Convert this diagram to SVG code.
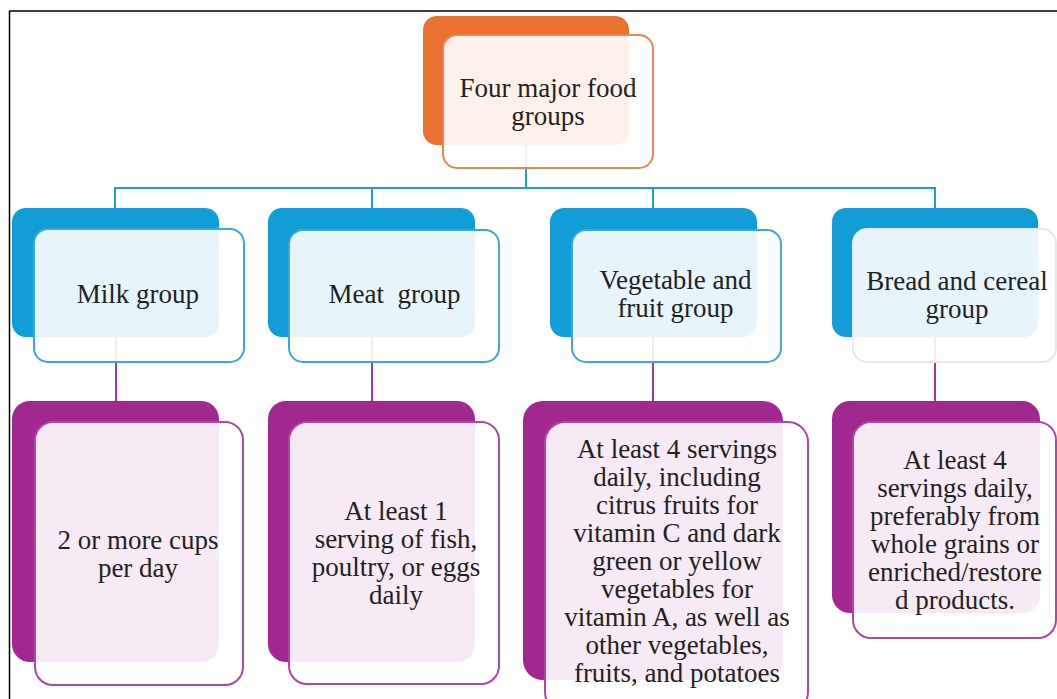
<svg xmlns="http://www.w3.org/2000/svg" width="1057" height="699" viewBox="0 0 1057 699">
<style>
  .bg{fill:#ffffff}
  .frame{stroke:#000;stroke-width:1.5;fill:none}
  .bk-o{fill:#E97132}
  .fr-o{fill:#ffffff;fill-opacity:0.9;stroke:#EE8552;stroke-width:2}
  .bk-b{fill:#139DD6}
  .fr-b{fill:#ffffff;fill-opacity:0.9;stroke:#3AA8DC;stroke-width:2}
  .fr-g{fill:#ffffff;fill-opacity:0.9;stroke:#E8E8E8;stroke-width:2}
  .bk-p{fill:#A0288F}
  .fr-p{fill:#ffffff;fill-opacity:0.9;stroke:#B048A3;stroke-width:2}
  .cb{stroke:#1A9FD9;stroke-width:2;fill:none}
  .cp{stroke:#A53598;stroke-width:2;fill:none}
  text{font-family:"Liberation Serif","Times New Roman",serif;font-size:27px;fill:#222;text-anchor:middle}
</style>
<rect class="bg" x="0" y="0" width="1057" height="699"/>
<g id="frame">
  <line class="frame" x1="9" y1="11" x2="1057" y2="11"/>
  <line class="frame" x1="9.5" y1="11" x2="9.5" y2="699"/>
</g>
<g id="connectors">
  <path class="cb" d="M526 80 V188 M115 208 V188 H935 V208 M372 188 V208 M653 188 V208"/>
  <path class="cp" d="M116 300 V401 M372 300 V401 M653 300 V401 M935 300 V401"/>
</g>
<g id="n-top">
  <rect class="bk-o" x="423" y="16" width="206" height="129" rx="14"/>
  <rect class="fr-o" x="443" y="35" width="210" height="133" rx="14"/>
  <text x="548" y="97">Four major food</text>
  <text x="548" y="125">groups</text>
</g>
<g id="n-milk">
  <rect class="bk-b" x="12" y="208" width="207" height="129" rx="14"/>
  <rect class="fr-b" x="34" y="229" width="210" height="133" rx="14"/>
  <text x="138" y="303">Milk group</text>
</g>
<g id="n-meat">
  <rect class="bk-b" x="268" y="208" width="207" height="129" rx="14"/>
  <rect class="fr-b" x="289" y="230" width="210" height="132" rx="14"/>
  <text x="394.5" y="303" xml:space="preserve">Meat  group</text>
</g>
<g id="n-veg">
  <rect class="bk-b" x="550" y="208" width="207" height="129" rx="14"/>
  <rect class="fr-b" x="572" y="230" width="209" height="132" rx="14"/>
  <text x="675.5" y="289">Vegetable and</text>
  <text x="675.5" y="317">fruit group</text>
</g>
<g id="n-bread">
  <rect class="bk-b" x="832" y="208" width="206" height="129" rx="14"/>
  <rect class="fr-g" x="853" y="229" width="203" height="133" rx="14"/>
  <text x="957" y="290">Bread and cereal</text>
  <text x="957" y="318">group</text>
</g>
<g id="d-milk">
  <rect class="bk-p" x="12" y="401" width="207" height="261" rx="18"/>
  <rect class="fr-p" x="35" y="422" width="208" height="263" rx="18"/>
  <text x="138" y="549">2 or more cups</text>
  <text x="138" y="577">per day</text>
</g>
<g id="d-meat">
  <rect class="bk-p" x="268" y="401" width="207" height="261" rx="18"/>
  <rect class="fr-p" x="289" y="422" width="210" height="262" rx="18"/>
  <text x="396" y="520">At least 1</text>
  <text x="396" y="548">serving of fish,</text>
  <text x="396" y="576">poultry, or eggs</text>
  <text x="396" y="604">daily</text>
</g>
<g id="d-veg">
  <rect class="bk-p" x="523" y="401" width="260" height="279" rx="20"/>
  <rect class="fr-p" x="545" y="422" width="263" height="290" rx="20"/>
  <text x="677" y="457.5">At least 4 servings</text>
  <text x="677" y="485.5">daily, including</text>
  <text x="677" y="513.5">citrus fruits for</text>
  <text x="677" y="541.5">vitamin C and dark</text>
  <text x="677" y="569.5">green or yellow</text>
  <text x="677" y="597.5">vegetables for</text>
  <text x="677" y="625.5">vitamin A, as well as</text>
  <text x="677" y="653.5">other vegetables,</text>
  <text x="677" y="681.5">fruits, and potatoes</text>
</g>
<g id="d-bread">
  <rect class="bk-p" x="832" y="401" width="208" height="212" rx="18"/>
  <rect class="fr-p" x="853" y="422" width="203" height="216" rx="18"/>
  <text x="955" y="469">At least 4</text>
  <text x="955" y="497">servings daily,</text>
  <text x="955" y="525">preferably from</text>
  <text x="955" y="553">whole grains or</text>
  <text x="955" y="581">enriched/restore</text>
  <text x="955" y="609">d products.</text>
</g>
</svg>
